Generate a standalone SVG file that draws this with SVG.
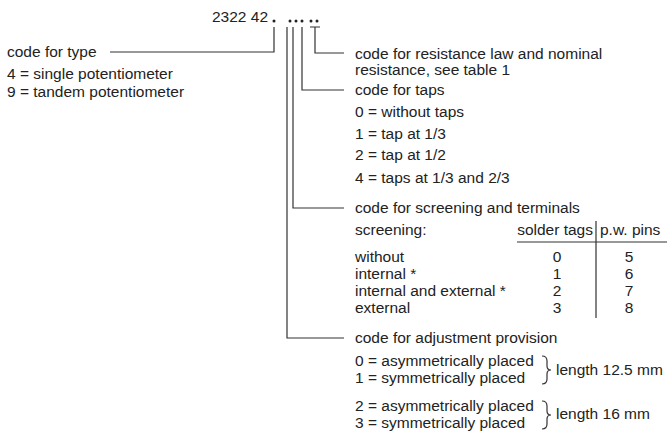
<svg xmlns="http://www.w3.org/2000/svg" width="667" height="447" viewBox="0 0 667 447">
<style>
text{font-family:"Liberation Sans",Arial,sans-serif;font-size:15.5px;fill:#222}
.c{fill:none;stroke:#333;stroke-width:1.2}
.m{text-anchor:middle}
.e{text-anchor:end}
</style>
<rect width="667" height="447" fill="#fff"/>
<g id="header">
<text x="268" y="22" class="e">2322 42</text>
<g fill="#222"><circle cx="274" cy="21" r="1.5"/><circle cx="290" cy="21" r="1.5"/><circle cx="296" cy="21" r="1.5"/><circle cx="302" cy="21" r="1.5"/><circle cx="311" cy="21" r="1.5"/><circle cx="317" cy="21" r="1.5"/></g>
</g>
<g id="connectors">
<path class="c" d="M274,27V52H110"/>
<path class="c" d="M287,27V338H344"/>
<path class="c" d="M293,27V208H344"/>
<path class="c" d="M302,27V90H344"/>
<path class="c" d="M310,27H320M315,27V53H344"/>
</g>
<g id="type">
<text x="7" y="57">code for type</text>
<text x="7" y="79">4 = single potentiometer</text>
<text x="7" y="97">9 = tandem potentiometer</text>
</g>
<g id="resistance">
<text x="355" y="59">code for resistance law and nominal</text>
<text x="355" y="75">resistance, see table 1</text>
</g>
<g id="taps">
<text x="355" y="95">code for taps</text>
<text x="355" y="117">0 = without taps</text>
<text x="355" y="139">1 = tap at 1/3</text>
<text x="355" y="160">2 = tap at 1/2</text>
<text x="355" y="183">4 = taps at 1/3 and 2/3</text>
</g>
<g id="screening">
<text x="355" y="213">code for screening and terminals</text>
<text x="355" y="235">screening:</text>
<text x="593" y="235" class="e">solder tags</text>
<text x="600" y="235">p.w. pins</text>
<path class="c" d="M517,242H667M596,221V318"/>
<text x="355" y="262">without</text>
<text x="355" y="279">internal *</text>
<text x="355" y="296">internal and external *</text>
<text x="355" y="313">external</text>
<text x="557" y="262" class="m">0</text>
<text x="557" y="279" class="m">1</text>
<text x="557" y="296" class="m">2</text>
<text x="557" y="313" class="m">3</text>
<text x="629" y="262" class="m">5</text>
<text x="629" y="279" class="m">6</text>
<text x="629" y="296" class="m">7</text>
<text x="629" y="313" class="m">8</text>
</g>
<g id="adjustment">
<text x="355" y="343">code for adjustment provision</text>
<text x="355" y="366">0 = asymmetrically placed</text>
<text x="355" y="383">1 = symmetrically placed</text>
<path class="c" d="M542,356Q547,356 547,361V366Q547,370 551,370Q547,370 547,374V379Q547,384 542,384"/>
<text x="556" y="375">length 12.5 mm</text>
<text x="355" y="411">2 = asymmetrically placed</text>
<text x="355" y="428">3 = symmetrically placed</text>
<path class="c" d="M542,401Q547,401 547,406V411Q547,415 551,415Q547,415 547,419V424Q547,429 542,429"/>
<text x="556" y="419">length 16 mm</text>
</g>
</svg>
